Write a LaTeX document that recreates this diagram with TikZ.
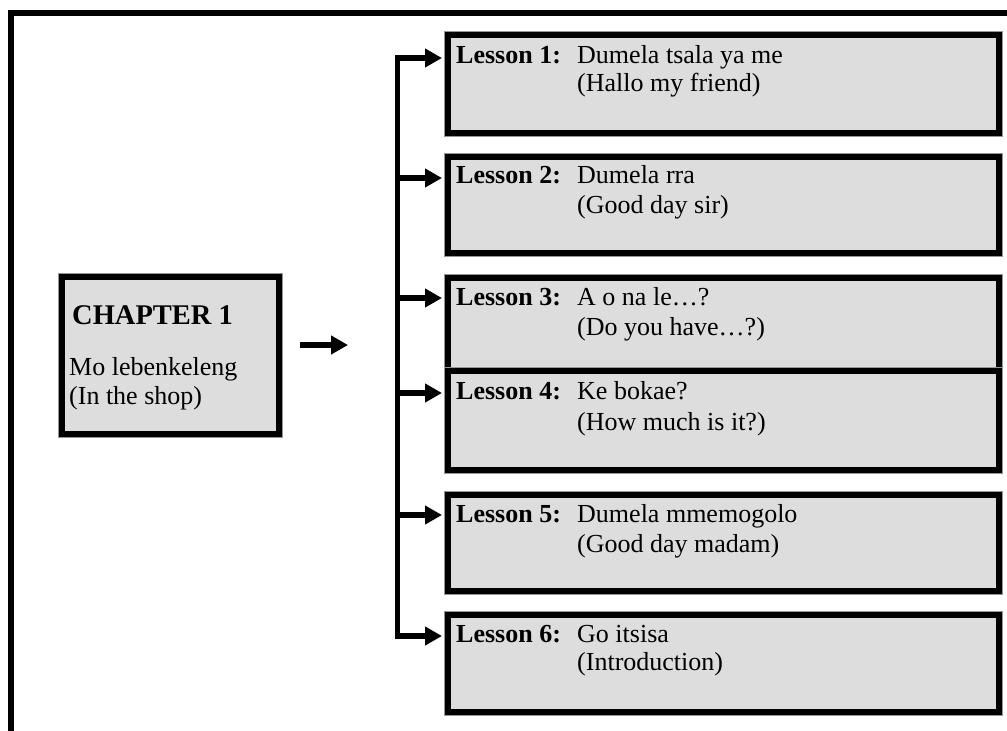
\documentclass[tikz,border=0pt]{standalone}
\usepackage{fontspec}
\setmainfont{Liberation Serif}
\usetikzlibrary{arrows.meta}
\definecolor{boxfill}{RGB}{221,221,221}
\definecolor{rim}{RGB}{150,150,150}
\tikzset{
  boxbase/.style={draw=black, line width=6pt, fill=boxfill, inner sep=0pt,
    anchor=north west, preaction={draw=rim, line width=8pt}},
  lessonbox/.style={boxbase, minimum width=551pt},
  chapterbox/.style={boxbase, minimum width=217pt, minimum height=157pt},
  frameline/.style={line width=6pt, line join=miter},
  busline/.style={line width=5.5pt, line cap=rect},
  feed/.style={line width=6pt, -{Triangle[length=17pt,width=18pt]}},
  label/.style={anchor=base west, inner sep=0pt, font=\fontsize{26}{30}\selectfont\bfseries},
  body/.style={anchor=base west, inner sep=0pt, font=\fontsize{26}{30}\selectfont},
  chaptitle/.style={anchor=base west, inner sep=0pt, font=\fontsize{28.5}{32}\selectfont\bfseries},
}
\begin{document}
\begin{tikzpicture}[x=1pt,y=-1pt]
\useasboundingbox (0,0) rectangle (1007,731);

% page frame: top and left rules
\coordinate (frameBottom) at (11,731);
\coordinate (frameCorner) at (11,13);
\coordinate (frameRight) at (1007,13);
\draw[frameline] (frameBottom) -- (frameCorner) -- (frameRight);

% chapter box
\node[chapterbox] (chapter) at (59,274) {};
\node[chaptitle] (chapTitle) at (72,324) {CHAPTER 1};
\node[body] (chapName) at (69,375) {Mo lebenkeleng};
\node[body] (chapGloss) at (69,404) {(In the shop)};

% arrow from the chapter to the lessons
\coordinate (chapArrowStart) at (300,345);
\coordinate (chapArrowEnd) at (348,345);
\draw[feed] (chapArrowStart) -- (chapArrowEnd);

% lesson boxes
\node[lessonbox, minimum height=98pt] (lesson1) at (445,32) {};
\node[lessonbox, minimum height=96pt] (lesson2) at (445,154) {};
\node[lessonbox, minimum height=93pt] (lesson3) at (445,275) {};
\node[lessonbox, minimum height=99pt] (lesson4) at (445,368) {};
\node[lessonbox, minimum height=96pt] (lesson5) at (445,492) {};
\node[lessonbox, minimum height=97pt] (lesson6) at (445,612) {};

% lesson texts
\node[label] (l1) at (456,63) {Lesson 1:};
\node[body]  (l1a) at (577,63) {Dumela tsala ya me};
\node[body]  (l1b) at (577,91) {(Hallo my friend)};

\node[label] (l2) at (456,183) {Lesson 2:};
\node[body]  (l2a) at (577,183) {Dumela rra};
\node[body]  (l2b) at (577,213) {(Good day sir)};

\node[label] (l3) at (456,305) {Lesson 3:};
\node[body]  (l3a) at (577,305) {A o na le…?};
\node[body]  (l3b) at (577,335) {(Do you have…?)};

\node[label] (l4) at (456,399) {Lesson 4:};
\node[body]  (l4a) at (577,399) {Ke bokae?};
\node[body]  (l4b) at (577,430) {(How much is it?)};

\node[label] (l5) at (456,522) {Lesson 5:};
\node[body]  (l5a) at (577,522) {Dumela mmemogolo};
\node[body]  (l5b) at (577,552) {(Good day madam)};

\node[label] (l6) at (456,642) {Lesson 6:};
\node[body]  (l6a) at (577,642) {Go itsisa};
\node[body]  (l6b) at (577,670) {(Introduction)};

% branching connector
\coordinate (bus1) at (397.5,58);
\coordinate (bus2) at (397.5,178);
\coordinate (bus3) at (397.5,298);
\coordinate (bus4) at (397.5,393);
\coordinate (bus5) at (397.5,515);
\coordinate (bus6) at (397.5,636);
\draw[busline] (bus1) -- (bus6);
\foreach \i in {1,...,6}{
  \draw[feed, shorten >=3pt] (bus\i) -- (bus\i -| lesson\i.west);
}
\end{tikzpicture}
\end{document}
